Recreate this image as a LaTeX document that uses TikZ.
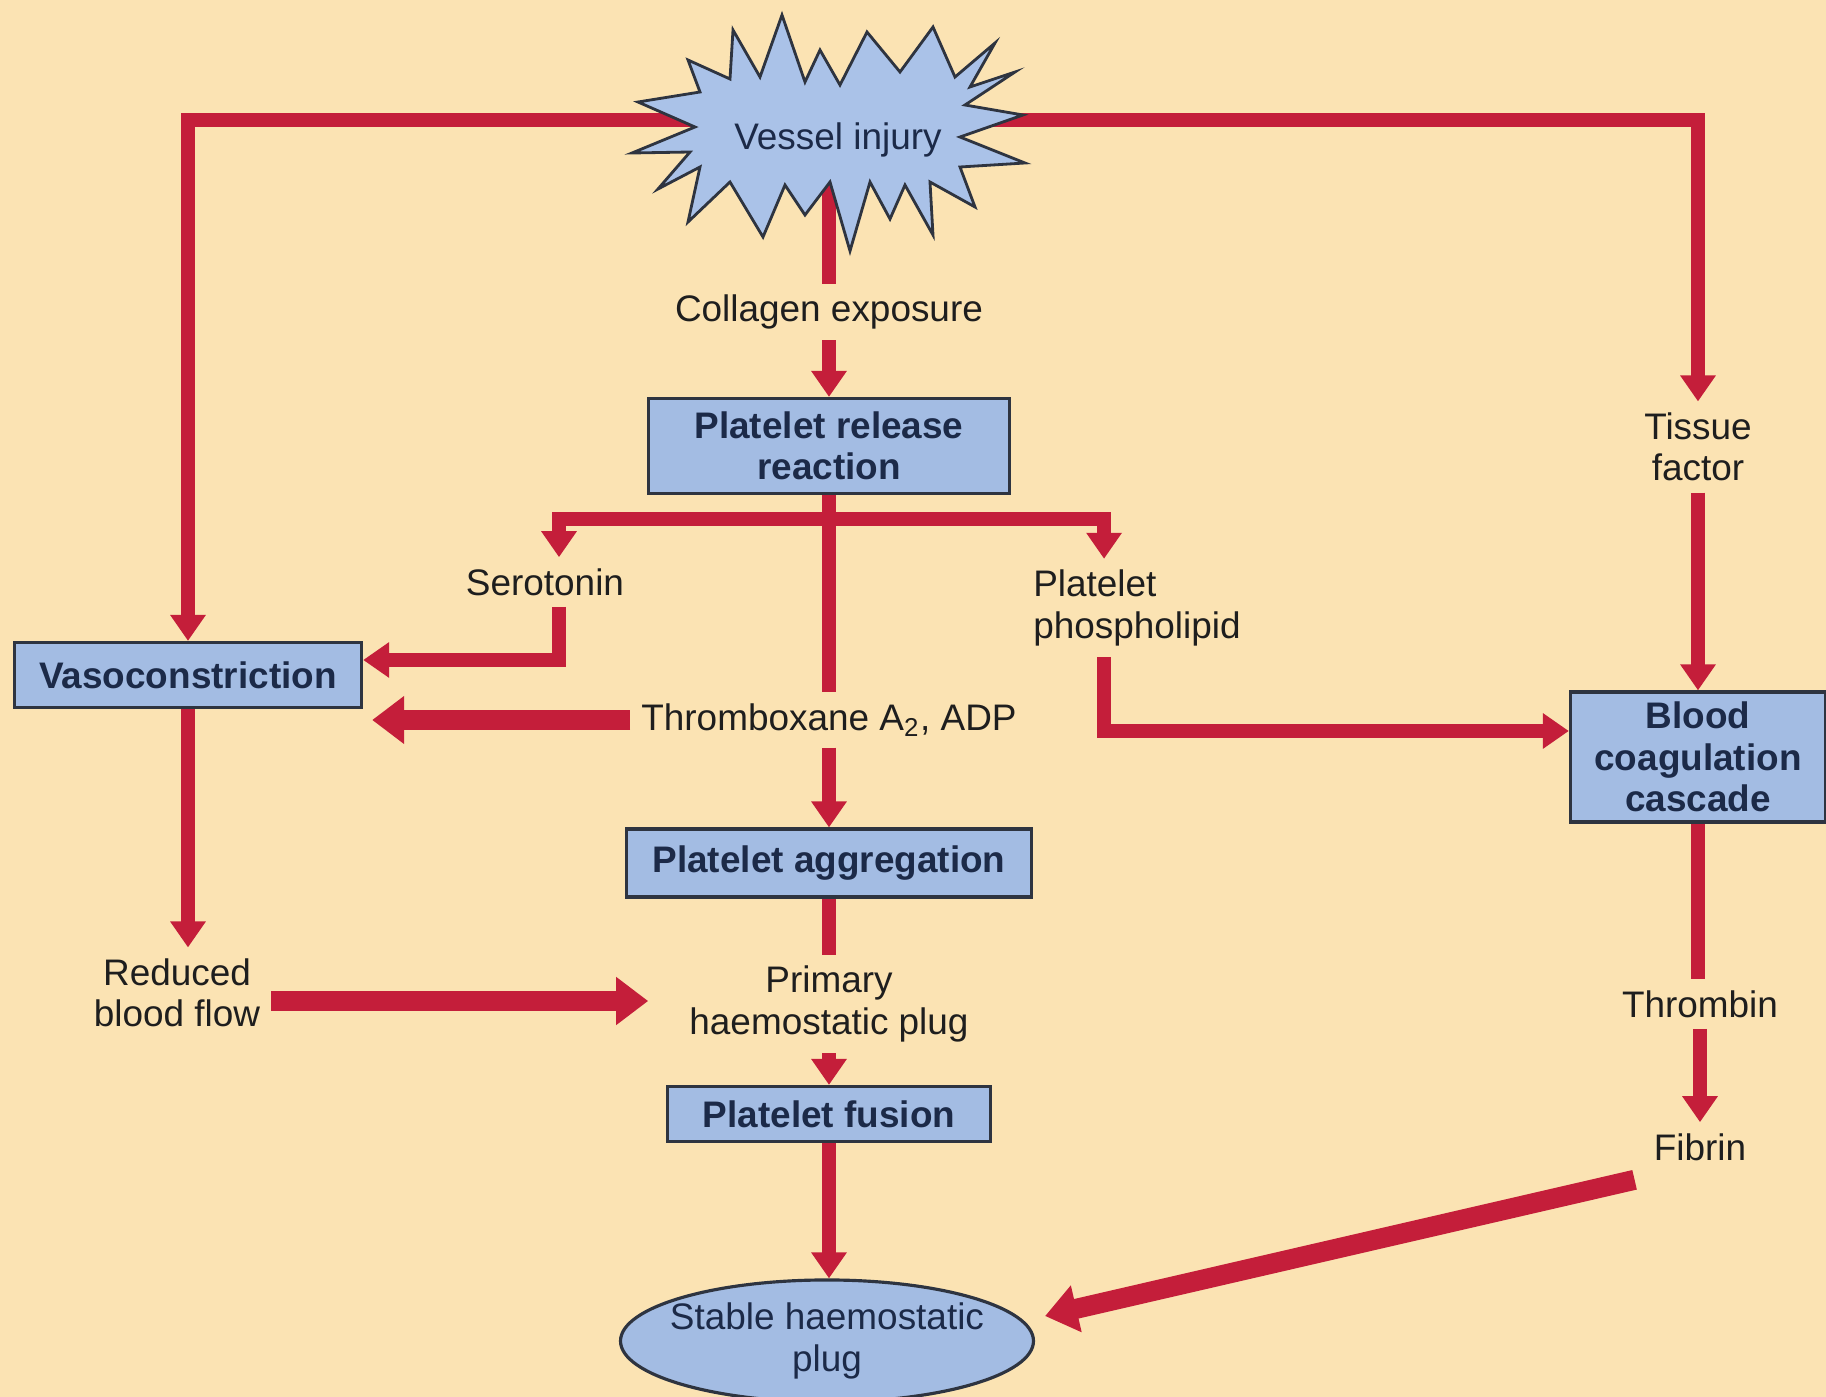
\documentclass[tikz,border=0pt]{standalone}
\usepackage{fontspec}
\setmainfont{Liberation Sans}
\usetikzlibrary{arrows.meta,calc,shapes.geometric}
\pgfdeclarelayer{back}
\pgfsetlayers{back,main}
\definecolor{bgc}{HTML}{FBE3B3}
\definecolor{redc}{HTML}{C41E3A}
\definecolor{boxc}{HTML}{A3BCE3}
\definecolor{starc}{HTML}{AAC2E8}
\definecolor{edgec}{HTML}{2E3440}
\definecolor{navy}{HTML}{1C2A48}
\definecolor{txt}{HTML}{1E1E1E}
\begin{document}
\begin{tikzpicture}[x=0.01cm,y=-0.01cm,
 every node/.style={font=\fontsize{10.5}{11.8}\selectfont},
 lbl/.style={text=txt, align=center, inner sep=3pt},
 pbox/.style={draw=edgec, line width=0.9pt, fill=boxc, text=navy,
   font=\fontsize{10.5}{11.8}\selectfont\bfseries, align=center, inner sep=2pt},
 ln/.style={draw=redc, line width=0.14cm},
 arr/.style={ln, -{Triangle[length=0.26cm,width=0.34cm]}},
 tarr/.style={draw=redc, line width=0.2cm, -{Triangle[length=0.32cm,width=0.46cm]}},
]
\useasboundingbox (0,0) rectangle (1826,1397);
\begin{pgfonlayer}{back}
\fill[bgc] (0,0) rectangle (1826,1397);
\end{pgfonlayer}

% star burst
\begin{scope}[shift={(830,127)}]
\filldraw[fill=starc,draw=edgec,line width=0.8pt,line join=miter,miter limit=20]
(-48,-112) -- (-25,-45) -- (-10,-77) -- (10,-42) -- (37,-95) -- (70,-55) -- (103,-100) -- (125,-50)
-- (165,-84) -- (140,-40) -- (185,-55) -- (135,-22) -- (193,-12) -- (130,10) -- (195,36)
-- (130,40) -- (145,80) -- (100,55) -- (103,108) -- (75,58) -- (60,92) -- (40,55) -- (20,124)
-- (0,55) -- (-25,88) -- (-45,58) -- (-67,110) -- (-100,55) -- (-142,95) -- (-130,40)
-- (-172,62) -- (-140,25) -- (-198,26) -- (-135,0) -- (-192,-25) -- (-130,-35) -- (-142,-67)
-- (-100,-48) -- (-97,-97) -- (-70,-50) -- cycle;
\end{scope}

\coordinate (vic) at (829,120);
\node[text=navy] (vi) at (838,140) {Vessel injury};
\node[lbl] (col) at (829,312) {Collagen exposure};
\node[pbox, minimum width=3.61cm, minimum height=0.95cm] (rel) at (829,446) {Platelet release\\reaction};
\node[lbl] (sero) at (545,582) {Serotonin};
\node[lbl, align=left, anchor=west] (phos) at (1022,608) {Platelet\\phospholipid};
\node[pbox, minimum width=3.47cm, minimum height=0.65cm] (vaso) at (188,675) {Vasoconstriction};
\node[lbl] (thx) at (829,720) {Thromboxane A\textsubscript{2}, ADP};
\node[pbox, minimum width=4.04cm, minimum height=0.68cm] (agg) at (829,863) {Platelet aggregation};
\node[lbl] (rbf) at (177,993) {Reduced\\blood flow};
\node[lbl] (php) at (829,1004) {Primary\\haemostatic plug};
\node[pbox, minimum width=3.23cm, minimum height=0.55cm] (fus) at (829,1114) {Platelet fusion};
\node[ellipse, draw=edgec, line width=0.9pt, fill=boxc, text=navy, align=center,
  minimum height=1.22cm, inner xsep=-0.11cm, inner ysep=0pt] (shp) at (827,1341) {Stable haemostatic\\plug};
\node[lbl] (tf) at (1698,447) {Tissue\\factor};
\node[pbox, minimum width=2.55cm, minimum height=1.3cm] (bcc) at (1698,757) {Blood\\coagulation\\cascade};
\node[lbl] (thr) at (1700,1004) {Thrombin};
\node[lbl] (fib) at (1700,1147) {Fibrin};

\begin{pgfonlayer}{back}
\draw[arr] (vic) -| (vaso.north);
\draw[arr] (vic) -| (tf.north);
\draw[ln] (vic) -- (vic |- col.north);
\draw[arr] (col.south) -- (rel.north);
\draw[ln] (rel.south) -- (thx.north);
\coordinate (br) at ($(rel.south)+(0,24)$);
\draw[arr] (br) -| ([xshift=0.14cm]sero.north);
\draw[arr] (br) -| ([xshift=0.82cm]phos.north west);
\draw[arr] ([xshift=0.14cm]sero.south) |- ([yshift=0.15cm]vaso.east);
\draw[arr] ([xshift=0.82cm]phos.south west) |- ([yshift=0.26cm]bcc.west);
\draw[tarr] (thx.west) -- ($(vaso.east |- thx.west)+(9,0)$);
\draw[arr] (thx.south) -- (agg.north);
\draw[arr] (vaso.south) -- (vaso.south |- rbf.north);
\draw[tarr] ($(rbf.east)+(0,8)$) -- ($(rbf.east -| php.west)+(-30,8)$);
\draw[ln] (agg.south) -- (php.north);
\draw[arr] (php.south) -- (fus.north);
\draw[arr] (fus.south) -- (fus.south |- shp.north);
\draw[arr] (tf.south) -- (bcc.north);
\draw[ln] (bcc.south) -- (bcc.south |- thr.north);
\draw[arr] (thr.south) -- (fib.north);
\draw[tarr] ($(fib.south west)+(-8,8)$) -- ($(shp.east)+(10,-25)$);
\end{pgfonlayer}
\end{tikzpicture}
\end{document}
